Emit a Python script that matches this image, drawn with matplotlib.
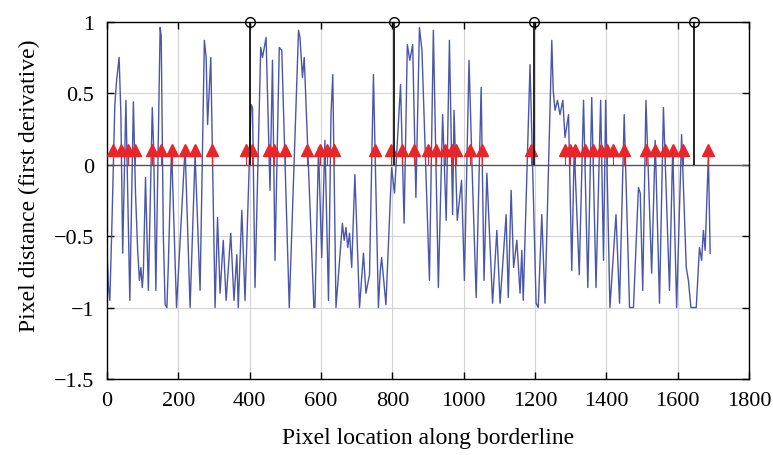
import matplotlib
matplotlib.use('Agg')
import matplotlib.pyplot as plt
import numpy as np

# signal vertices (pixel location, first derivative)
sig_x = [0, 4, 8, 14, 22, 27, 34, 39, 44, 53, 64, 74, 80, 86, 91, 95, 99, 102, 108, 116,
         127, 131, 137, 149, 152, 158, 163, 168, 172, 181, 195, 219, 233, 247, 261, 273, 278, 282, 291, 303,
         310, 317, 326, 334, 347, 356, 364, 368, 378, 387, 404, 408, 415, 431, 436, 446, 457, 464, 471, 483,
         490, 511, 537, 541, 548, 553, 580, 583, 593, 602, 611, 621, 628, 633, 642, 660, 665, 670, 675, 680,
         686, 695, 708, 719, 726, 736, 747, 761, 766, 770, 782, 798, 806, 823, 833, 842, 849, 857, 866, 876,
         883, 904, 915, 929, 941, 951, 960, 969, 973, 982, 994, 1002, 1015, 1024, 1035, 1049, 1057, 1065, 1081, 1093,
         1102, 1119, 1125, 1133, 1140, 1149, 1158, 1163, 1167, 1186, 1203, 1209, 1219, 1228, 1247, 1251, 1256, 1263, 1270, 1278,
         1284, 1294, 1303, 1310, 1324, 1336, 1348, 1359, 1371, 1384, 1392, 1398, 1410, 1427, 1437, 1450, 1465, 1476, 1490, 1495,
         1502, 1511, 1527, 1537, 1549, 1560, 1577, 1586, 1597, 1611, 1624, 1630, 1637, 1652, 1661, 1667, 1672, 1677, 1686, 1691]
sig_y = [-0.6, -0.85, -0.95, -0.4, 0.42, 0.59, 0.75, 0.35, -0.62, 0.45, -0.95, 0.44, -0.2, -0.6, -0.81, -0.72, -0.86, -0.75, -0.09, -0.88,
         0.40, 0.1, -0.88, 0.96, 0.9, -0.5, -0.98, -1.0, -0.7, 0.12, -1.0, 0.12, -1.0, 0.07, -0.88, 0.87, 0.75, 0.28, 0.75, -1.0,
         -0.37, -0.9, -0.53, -0.95, -0.48, -0.95, -0.63, -1.0, -0.32, -0.95, 0.42, 0.40, -0.86, 0.82, 0.75, 0.89, -0.18, 0.73, -0.67, 0.82,
         0.8, -1.0, 0.94, 0.89, 0.61, 0.75, -1.0, -1.0, 0.12, -0.65, 0.17, -0.95, 0.35, 0.63, -1.0, -0.41, -0.53, -0.44, -0.58, -0.48,
         -0.72, -0.07, -1.0, -0.62, -0.9, -0.77, 0.63, -1.0, -0.75, -0.65, -0.98, -0.02, -0.2, 0.56, -0.41, 0.84, 0.73, 0.84, -0.23, 0.96,
         0.8, -0.81, 0.94, -0.86, 0.35, -0.39, 0.87, -0.35, 0.38, -0.39, -0.11, -0.81, 0.73, -0.06, -0.93, 0.54, -0.81, -0.06, -0.97, -0.46,
         -0.97, -0.35, -0.93, -0.18, -0.72, -0.53, -0.9, -0.6, -0.95, 0.70, -0.97, -1.0, -0.35, -0.97, 0.87, 0.52, 0.38, 0.45, 0.35, 0.45,
         0.19, 0.35, -0.74, 0.12, -0.77, 0.45, -0.86, 0.47, -0.86, 0.45, -0.67, 0.45, -1.0, -0.35, -0.97, 0.35, -1.0, -1.0, -0.16, -0.2,
         -0.88, 0.45, -0.76, 0.17, -0.97, 0.40, -0.88, 0.12, -1.0, 0.21, -0.72, -0.81, -1.0, -1.0, -0.58, -0.67, -0.46, -0.6, 0.07, -0.62]

# detected points (red triangles) and segment boundaries (black stems)
tri_x = [17, 39, 59, 78, 126, 151, 182, 219, 247, 294, 390, 407, 454, 468, 499, 561, 597, 617, 637, 752,
         796, 827, 861, 900, 923, 948, 967, 979, 1018, 1052, 1189, 1284, 1298, 1312, 1340, 1363, 1385, 1402, 1419, 1450,
         1511, 1537, 1565, 1587, 1615, 1685]
tri_level = 0.1
cut_x = [401, 805, 1198, 1645]
cut_level = 1.0

plt.rcParams['font.family'] = ['Liberation Serif', 'DejaVu Serif']

fig = plt.figure(figsize=(7.73, 4.56), dpi=100)
ax = fig.add_axes([0.1384, 0.1667, 0.8306, 0.7835])

ax.plot(sig_x, sig_y, color='#4a56aa', lw=1.0, zorder=2, solid_joinstyle='round')

ml, sl, bl = ax.stem(tri_x, [tri_level] * len(tri_x), linefmt='-', markerfmt='^', basefmt=' ')
plt.setp(sl, color='#e8262a', lw=0.8)
plt.setp(ml, color='#e8262a', markersize=8.5, zorder=4)

ml2, sl2, bl2 = ax.stem(cut_x, [cut_level] * len(cut_x), linefmt='k-', markerfmt='o', basefmt='-')
plt.setp(sl2, color='black', lw=1.2, zorder=5)
plt.setp(ml2, markerfacecolor='none', markeredgecolor='black', markersize=7, mew=1.0, zorder=6, clip_on=False)
plt.setp(bl2, color='#555555', lw=1.0)
bl2.set_xdata([0, 1800])

ax.set_xlim(0, 1800)
ax.set_ylim(-1.5, 1)
ax.set_xticks(np.arange(0, 1801, 200))
ax.set_yticks([-1.5, -1, -0.5, 0, 0.5, 1])
ax.set_yticklabels(['\u22121.5', '\u22121', '\u22120.5', '0', '0.5', '1'])
ax.grid(True, color='#d4d4d4', lw=0.8)
ax.set_axisbelow(True)
ax.tick_params(direction='in', top=True, right=True, length=5, labelsize=16, width=1, pad=9)
for s in ax.spines.values():
    s.set_linewidth(1.0)

ax.set_xlabel('Pixel location along borderline', fontsize=17, labelpad=12)
ax.set_ylabel('Pixel distance (first derivative)', fontsize=17)
ax.yaxis.set_label_coords(-0.104, 0.545)

fig.savefig('out.png', dpi=100)
